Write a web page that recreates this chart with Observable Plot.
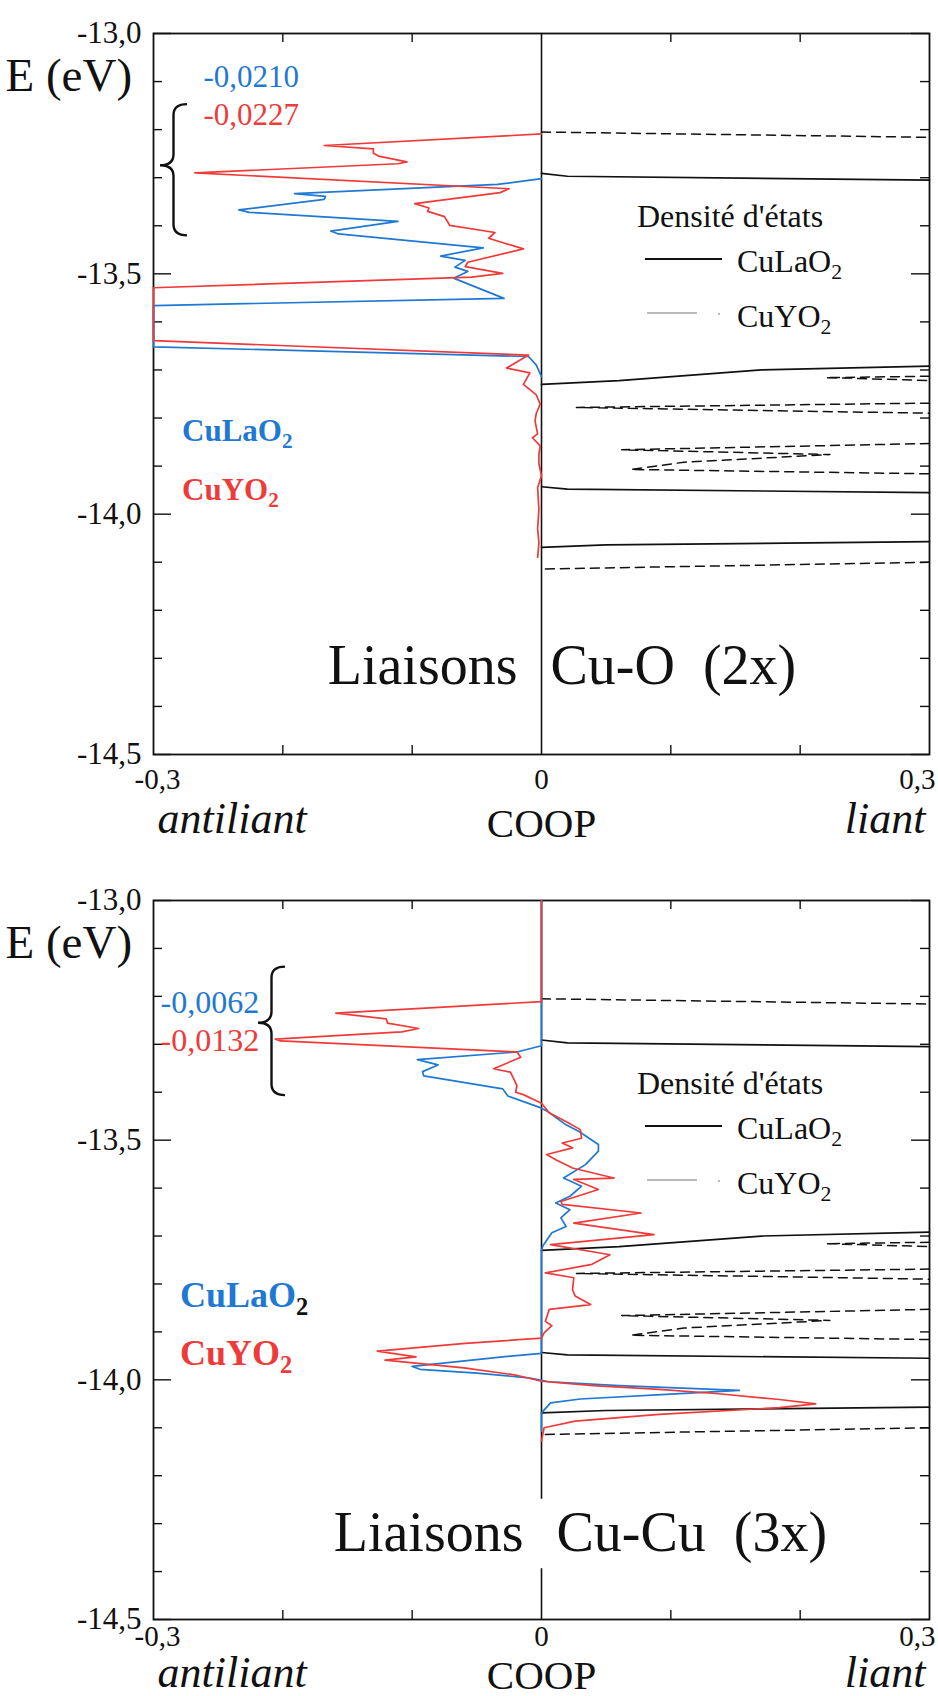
<!DOCTYPE html>
<html><head><meta charset="utf-8">
<script src="https://cdn.jsdelivr.net/npm/d3@7"></script>
<script src="https://cdn.jsdelivr.net/npm/@observablehq/plot@0.6"></script>
<style>
body{margin:0;background:#fff;}
#chart svg{display:block;}
</style></head><body><div id="chart"></div>
<script>
const FONT = '"Liberation Serif","Times New Roman",Times,serif';
const RED = "#ef3a3a", BLUE = "#1f78d2";

// ---- axis values ----
const energyMinorTicks = [-13.1,-13.2,-13.3,-13.4,-13.6,-13.7,-13.8,-13.9,-14.1,-14.2,-14.3,-14.4];
const energyMajorTicks = [-13.0,-13.5,-14.0,-14.5];
const energyTickLabels = ["-13,0","-13,5","-14,0","-14,5"];
const coopTicks = [-0.2,-0.1,0.1,0.2];
const coopTickValues = [-0.3, 0, 0.3];
const coopTickLabels = ["-0,3","0","0,3"];

// ---- COOP curves, [E (eV), COOP] ----
// Liaisons Cu-O (2x)
const cuO_CuLaO2 = [
[-13.302,0],[-13.314,-0.034],[-13.333,-0.191],[-13.339,-0.167],[-13.345,-0.168],[-13.367,-0.234],
[-13.372,-0.226],[-13.391,-0.111],[-13.411,-0.163],[-13.417,-0.157],[-13.446,-0.045],[-13.463,-0.078],
[-13.472,-0.059],[-13.486,-0.067],[-13.495,-0.057],[-13.509,-0.068],[-13.551,-0.029],[-13.566,-0.300],
[-13.652,-0.300],[-13.672,-0.010],[-13.690,-0.004],[-13.702,-0.002],[-13.714,0]
];
const cuO_CuYO2 = [
[-13.209,0],[-13.233,-0.168],[-13.240,-0.130],[-13.249,-0.130],[-13.255,-0.126],[-13.267,-0.104],
[-13.271,-0.111],[-13.290,-0.268],[-13.323,-0.025],[-13.331,-0.032],[-13.354,-0.098],[-13.363,-0.087],
[-13.370,-0.088],[-13.381,-0.075],[-13.399,-0.071],[-13.414,-0.036],[-13.426,-0.041],[-13.448,-0.014],
[-13.476,-0.057],[-13.485,-0.059],[-13.499,-0.030],[-13.507,-0.054],[-13.529,-0.300],[-13.639,-0.300],
[-13.669,-0.010],[-13.696,-0.027],[-13.706,-0.009],[-13.730,-0.014],[-13.752,-0.004],[-13.771,-0.001],
[-13.790,-0.004],[-13.806,-0.005],[-13.833,-0.003],[-13.841,-0.007],[-13.858,-0.001],[-13.875,-0.002],
[-13.895,-0.002],[-13.920,0],[-13.945,-0.003],[-13.990,-0.002],[-14.030,-0.003],[-14.060,-0.002],[-14.090,-0.003]
];
// Liaisons Cu-Cu (3x)
const cuCu_CuLaO2 = [
[-13.000,0],[-13.303,0],[-13.316,-0.019],[-13.332,-0.096],[-13.343,-0.080],[-13.357,-0.092],
[-13.366,-0.091],[-13.393,-0.030],[-13.408,-0.026],[-13.431,-0.002],[-13.439,0.004],[-13.468,0.019],
[-13.482,0.029],[-13.509,0.044],[-13.523,0.044],[-13.551,0.034],[-13.579,0.017],[-13.596,0.031],
[-13.617,0.022],[-13.631,0.011],[-13.645,0.022],[-13.662,0.015],[-13.680,0.019],[-13.693,0.008],
[-13.721,0.001],[-13.730,0],[-13.945,0],[-13.952,-0.030],[-13.972,-0.100],[-13.978,-0.094],
[-13.986,-0.050],[-13.996,-0.010],[-14.004,0.006],[-14.012,0.060],[-14.022,0.153],[-14.030,0.100],
[-14.040,0.030],[-14.048,0.007],[-14.069,0],[-14.107,0]
];
const cuCu_CuYO2 = [
[-13.000,0],[-13.211,0],[-13.235,-0.159],[-13.247,-0.120],[-13.256,-0.119],[-13.267,-0.095],
[-13.274,-0.108],[-13.289,-0.206],[-13.293,-0.202],[-13.316,-0.019],[-13.327,-0.016],[-13.351,-0.037],
[-13.358,-0.024],[-13.386,-0.019],[-13.400,-0.020],[-13.405,-0.014],[-13.423,0],[-13.443,0.006],
[-13.464,0.021],[-13.478,0.030],[-13.496,0.031],[-13.506,0.016],[-13.516,0.024],[-13.530,0.004],
[-13.541,0.011],[-13.558,0.024],[-13.579,0.056],[-13.582,0.025],[-13.603,0.044],[-13.628,0.015],
[-13.634,0.016],[-13.652,0.077],[-13.673,0.025],[-13.697,0.087],[-13.718,0.007],[-13.739,0.053],
[-13.759,0.039],[-13.777,0.003],[-13.787,0.025],[-13.812,0.024],[-13.825,0.026],[-13.843,0.038],
[-13.853,0.006],[-13.878,0.003],[-13.887,0.008],[-13.902,0.002],[-13.913,0],[-13.924,-0.059],
[-13.940,-0.127],[-13.952,-0.097],[-13.959,-0.121],[-13.975,-0.060],[-13.990,-0.020],[-14.003,0],
[-14.012,0.040],[-14.020,0.091],[-14.029,0.137],[-14.041,0.184],[-14.050,0.212],[-14.058,0.184],
[-14.072,0.091],[-14.086,0.026],[-14.100,0.002],[-14.128,0]
];

// ---- Density of states peaks (same in both panels), [E, DOS] ----
const dos_CuLaO2 = [
 [[-13.291,0],[-13.297,0.02],[-13.305,0.3]],
 [[-13.730,0],[-13.722,0.06],[-13.700,0.17],[-13.692,0.3]],
 [[-13.943,0],[-13.948,0.02],[-13.955,0.3]],
 [[-14.069,0],[-14.064,0.05],[-14.057,0.3]]
];
const dos_CuYO2 = [
 [[-13.205,0],[-13.216,0.3]],
 [[-13.713,0.3],[-13.716,0.22],[-13.722,0.3]],
 [[-13.769,0.3],[-13.778,0.027],[-13.790,0.3]],
 [[-13.853,0.3],[-13.866,0.062],[-13.876,0.223],[-13.892,0.11],[-13.907,0.069],[-13.916,0.3]],
 [[-14.114,0.003],[-14.100,0.3]]
];

// ---- integrated COOP labels and bracket ranges ----
const cuO_integrated = ["-0,0210","-0,0227"];
const cuCu_integrated = ["-0,0062","-0,0132"];
const cuO_brace = [-13.148, -13.275, -13.421];
const cuCu_brace = [-13.139, -13.256, -13.407];

const PX = 0.6/776;   // COOP per pixel
const PY = 1.5/720;   // eV per pixel

function panel(cfg){
  const W = 938;
  const marks = [];
  marks.push(Plot.frame({stroke:"#111", strokeWidth:1.8}));
  // ticks (inward)
  marks.push(Plot.ruleY(energyMinorTicks,{y:d=>d, x1:-0.3, x2:-0.3+9*PX, stroke:"#111", strokeWidth:1.4}));
  marks.push(Plot.ruleY(energyMinorTicks,{y:d=>d, x1:0.3, x2:0.3-9*PX, stroke:"#111", strokeWidth:1.4}));
  marks.push(Plot.ruleY(energyMajorTicks,{y:d=>d, x1:-0.3, x2:-0.3+18*PX, stroke:"#111", strokeWidth:1.4}));
  marks.push(Plot.ruleY(energyMajorTicks,{y:d=>d, x1:0.3, x2:0.3-18*PX, stroke:"#111", strokeWidth:1.4}));
  marks.push(Plot.ruleX(coopTicks,{x:d=>d, y1:-13, y2:-13-9*PY, stroke:"#111", strokeWidth:1.4}));
  marks.push(Plot.ruleX(coopTicks,{x:d=>d, y1:-14.5, y2:-14.5+9*PY, stroke:"#111", strokeWidth:1.4}));
  // zero line
  marks.push(Plot.ruleX(cfg.zeroSegs,{x:()=>0, y1:d=>d[0], y2:d=>d[1], stroke:"#111", strokeWidth:1.6}));
  // DOS
  dos_CuLaO2.forEach(s=>marks.push(Plot.line(s,{x:d=>d[1], y:d=>d[0], stroke:"#111", strokeWidth:1.7})));
  dos_CuYO2.forEach(s=>marks.push(Plot.line(s,{x:d=>d[1], y:d=>d[0], stroke:"#111", strokeWidth:1.5, strokeDasharray:"9,6"})));
  // COOP curves
  marks.push(Plot.line(cfg.blue,{x:d=>d[1], y:d=>d[0], stroke:BLUE, strokeWidth:1.7}));
  marks.push(Plot.line(cfg.red,{x:d=>d[1], y:d=>d[0], stroke:RED, strokeWidth:1.7}));
  // tick labels
  marks.push(Plot.text(energyMajorTicks,{x:-0.3, y:d=>d, text:(d,i)=>energyTickLabels[i], textAnchor:"end", dx:-12, fontSize:31, fill:"#111"}));
  marks.push(Plot.text([coopTickValues[0]],{x:d=>d, text:()=>coopTickLabels[0], frameAnchor:"bottom", lineAnchor:"bottom", dy:cfg.tickDy, dx:4, textAnchor:"middle", fontSize:29, fill:"#111"}));
  marks.push(Plot.text([coopTickValues[1]],{x:d=>d, text:()=>coopTickLabels[1], frameAnchor:"bottom", lineAnchor:"bottom", dy:cfg.tickDy, textAnchor:"middle", fontSize:29, fill:"#111"}));
  marks.push(Plot.text([coopTickValues[2]],{x:d=>d, text:()=>coopTickLabels[2], frameAnchor:"bottom", lineAnchor:"bottom", dy:cfg.tickDy, dx:6, textAnchor:"end", fontSize:29, fill:"#111"}));
  marks.push(Plot.text(["antiliant"],{frameAnchor:"bottom-left", text:d=>d, dx:4, dy:cfg.labDy, textAnchor:"start", lineAnchor:"bottom", fontStyle:"italic", fontSize:44, fill:"#111"}));
  marks.push(Plot.text(["liant"],{frameAnchor:"bottom-right", text:d=>d, dx:-4, dy:cfg.labDy, textAnchor:"end", lineAnchor:"bottom", fontStyle:"italic", fontSize:44, fill:"#111"}));
  marks.push(Plot.text([0],{x:d=>d, text:()=>"COOP", frameAnchor:"bottom", dy:cfg.coopDy, lineAnchor:"bottom", textAnchor:"middle", fontSize:41, fill:"#111"}));
  marks.push(Plot.text(["E (eV)"],{frameAnchor:"top-left", text:d=>d, dx:-148, dy:57, textAnchor:"start", lineAnchor:"bottom", fontSize:47, fill:"#111"}));
  // title
  marks.push(Plot.text([0],{x:d=>d, text:()=>"Liaisons", frameAnchor:"bottom", dy:cfg.titleDy, dx:cfg.titleDxL, textAnchor:"end", lineAnchor:"bottom", fontSize:56, fill:"#111"}));
  marks.push(Plot.text([0],{x:d=>d, text:()=>cfg.titleR, frameAnchor:"bottom", dy:cfg.titleDy, dx:cfg.titleDxR, textAnchor:"start", lineAnchor:"bottom", fontSize:56, fill:"#111"}));
  // integrated values
  marks.push(Plot.text([cfg.integrated[0]],{frameAnchor:"top-left", text:d=>d, dx:cfg.intDx, dy:cfg.intDy[0], textAnchor:"start", lineAnchor:"bottom", fontSize:cfg.intFs, fill:BLUE}));
  marks.push(Plot.text([cfg.integrated[1]],{frameAnchor:"top-left", text:d=>d, dx:cfg.intDx, dy:cfg.intDy[1], textAnchor:"start", lineAnchor:"bottom", fontSize:cfg.intFs, fill:RED}));

  const svg = Plot.plot({
    width: W, height: cfg.height,
    marginLeft:153, marginRight:9, marginTop:cfg.mt, marginBottom:cfg.mb,
    x:{domain:[-0.3,0.3], axis:null},
    y:{domain:[-14.5,-13], axis:null},
    style:{fontFamily:FONT, background:"#fff", overflow:"visible"},
    marks
  });
  const ys = svg.scale("y");
  const g = d3.select(svg).append("g").attr("font-family", FONT).attr("text-anchor","start");
  // brace
  const yT = ys.apply(cfg.brace[0]), yM = ys.apply(cfg.brace[1]), yB = ys.apply(cfg.brace[2]);
  const xt = cfg.braceX[0], xe = cfg.braceX[1], xsp = xt + (xe-xt)*0.5, r = 11;
  g.append("path").attr("fill","none").attr("stroke","#111").attr("stroke-width",2.4)
   .attr("d",`M${xe},${yT} Q${xsp},${yT} ${xsp},${yT+r} L${xsp},${yM-r} Q${xsp},${yM} ${xt},${yM} Q${xsp},${yM} ${xsp},${yM+r} L${xsp},${yB-r} Q${xsp},${yB} ${xe},${yB}`);
  // compound labels with subscripts
  function compound(x, y, base, color, subColor, fs, weight){
    const t = g.append("text").attr("x",x).attr("y",y).attr("font-size",fs).attr("font-weight",weight).attr("fill",color);
    t.append("tspan").text(base);
    t.append("tspan").attr("font-size",fs*0.68).attr("dy",fs*0.22).attr("fill",subColor).text("2");
  }
  const y0 = ys.apply(-13);
  compound(cfg.nameX, y0+cfg.nameDy[0], "CuLaO", BLUE, cfg.subLaColor, cfg.nameFs, "bold");
  compound(cfg.nameX, y0+cfg.nameDy[1], "CuYO", RED, RED, cfg.nameFs, "bold");
  // legend
  g.append("text").attr("x",637).attr("y",y0+194).attr("font-size",32).attr("fill","#111").text("Densité d'états");
  g.append("line").attr("x1",645).attr("x2",722).attr("y1",y0+226).attr("y2",y0+226).attr("stroke","#111").attr("stroke-width",1.8);
  compound(737, y0+239, "CuLaO", "#111", "#111", 32, "normal");
  g.append("line").attr("x1",647).attr("x2",697).attr("y1",y0+280).attr("y2",y0+280).attr("stroke","#777").attr("stroke-width",1.1);
  g.append("circle").attr("cx",719).attr("cy",y0+281).attr("r",0.9).attr("fill","#999");
  compound(737, y0+294, "CuYO", "#111", "#111", 32, "normal");
  return svg;
}

const chart = document.getElementById("chart");
chart.appendChild(panel({
  height:850, mt:33, mb:96,
  blue:cuO_CuLaO2, red:cuO_CuYO2,
  zeroSegs:[[-13,-14.5]],
  tickDy:34, labDy:78, coopDy:82, titleDy:-71, titleDxL:-24, titleDxR:9, titleR:"Cu-O\u00a0\u00a0(2x)",
  integrated:cuO_integrated, intDx:50, intDy:[53,91], intFs:31,
  brace:cuO_brace, braceX:[160,187],
  nameX:182, nameDy:[408,467], nameFs:31, subLaColor:BLUE
}));
chart.appendChild(panel({
  height:846, mt:50, mb:77,
  blue:cuCu_CuLaO2, red:cuCu_CuYO2,
  zeroSegs:[[-13,-14.249],[-14.394,-14.5]],
  tickDy:26, labDy:67, coopDy:69, titleDy:-69, titleDxL:-18, titleDxR:15, titleR:"Cu-Cu\u00a0\u00a0(3x)",
  integrated:cuCu_integrated, intDx:7, intDy:[112,150], intFs:32,
  brace:cuCu_brace, braceX:[258,285],
  nameX:180, nameDy:[407,465], nameFs:36, subLaColor:"#111"
}));
</script></body></html>
